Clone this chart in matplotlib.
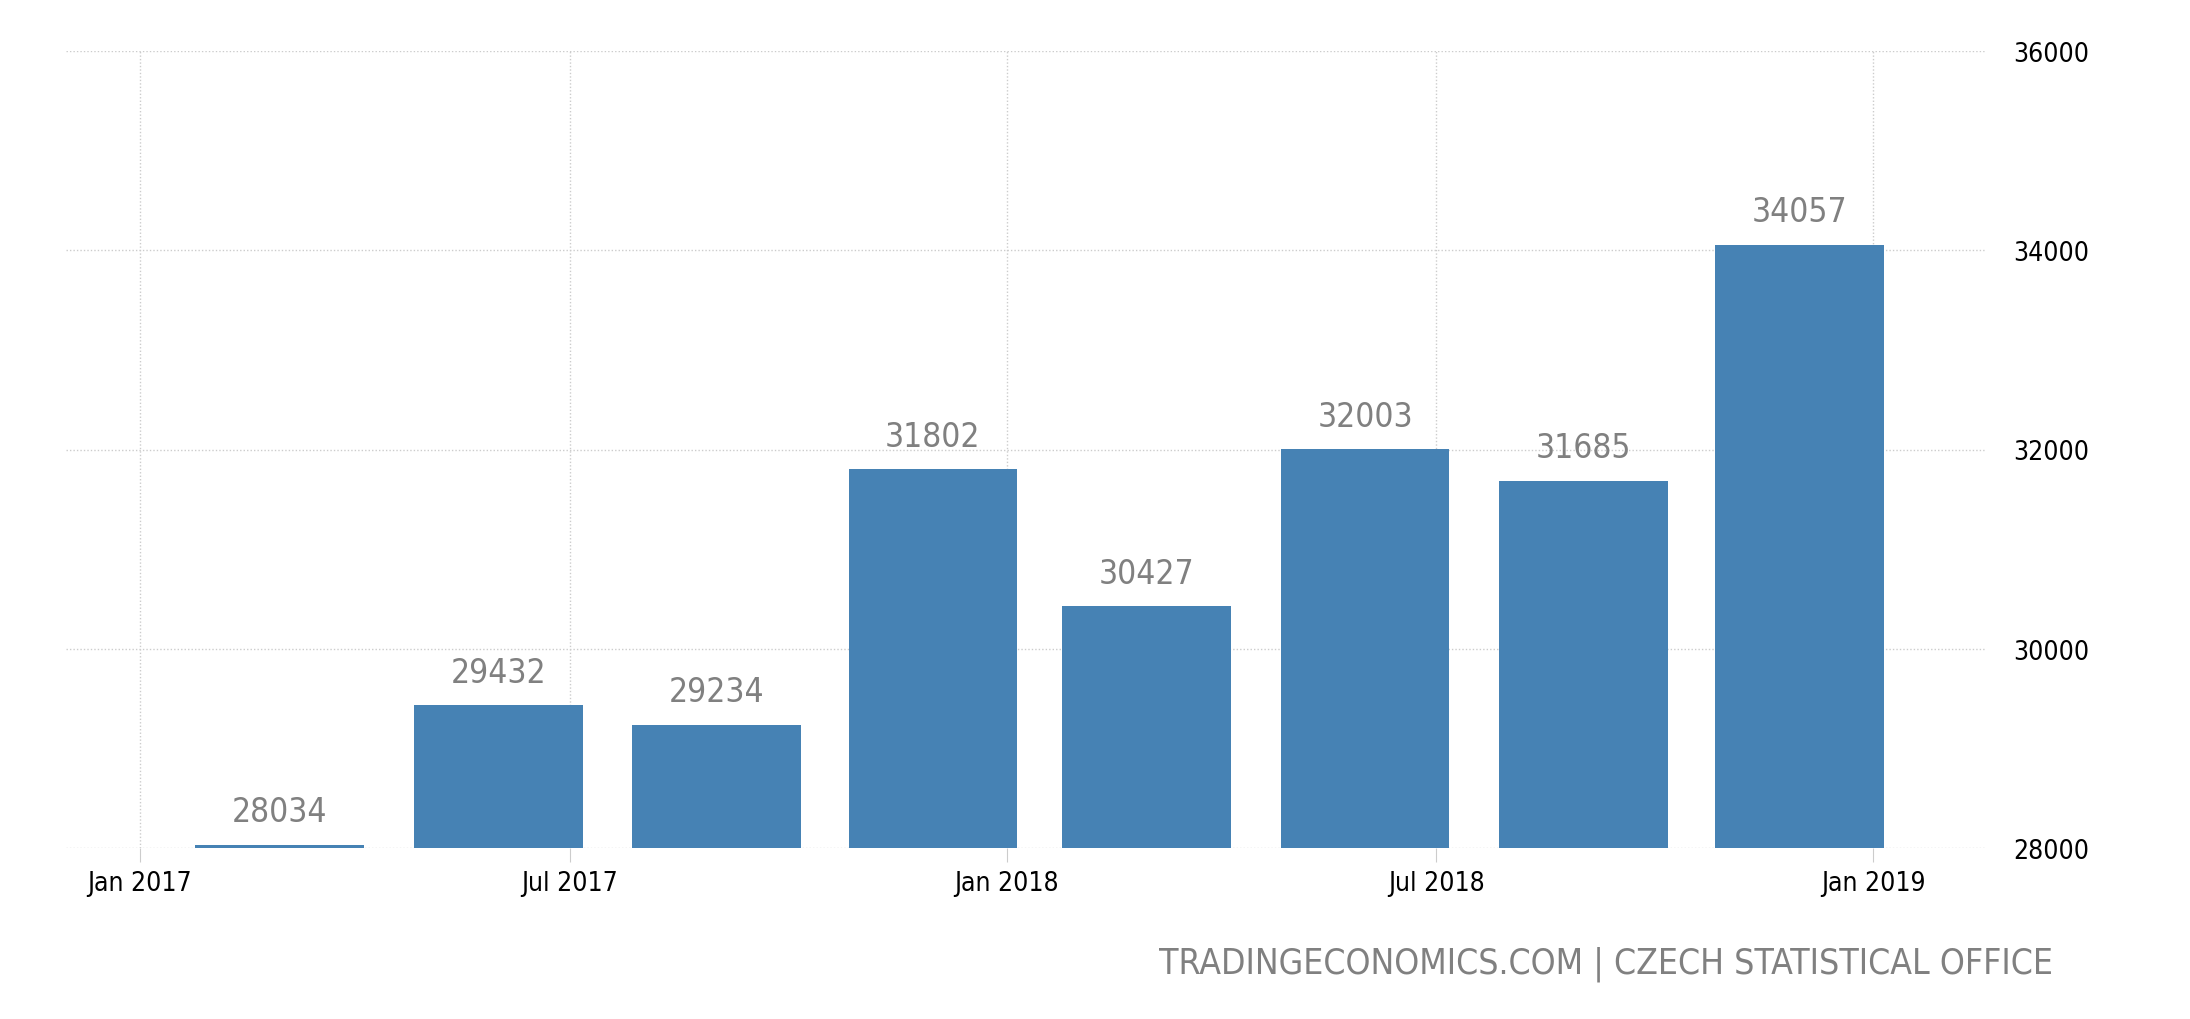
import matplotlib
matplotlib.use("Agg")
import matplotlib.pyplot as plt
import matplotlib.dates as mdates
import numpy as np
import datetime as dt

# quarterly data (bars centred on the last month of each quarter)
periods = ["2017-03", "2017-06", "2017-09", "2017-12",
           "2018-03", "2018-06", "2018-09", "2018-12"]
values = [28034, 29432, 29234, 31802, 30427, 32003, 31685, 34057]
y_ticks = [28000, 30000, 32000, 34000, 36000]
x_tick_dates = ["2017-01", "2017-07", "2018-01", "2018-07", "2019-01"]
x_tick_labels = ["Jan 2017", "Jul 2017", "Jan 2018", "Jul 2018", "Jan 2019"]
source = "TRADINGECONOMICS.COM | CZECH STATISTICAL OFFICE"

plt.rcParams['font.family'] = ['DejaVu Sans']
plt.rcParams['font.stretch'] = 'condensed'

bar_color = "#4682b4"
label_gray = "#808080"
grid_gray = "#cccccc"

def to_date(s):
    y, m = s.split("-")
    return dt.date(int(y), int(m), 1)

x = mdates.date2num([to_date(p) for p in periods])

fig = plt.figure(figsize=(21.9, 10.2), dpi=100)
ax = fig.add_axes([66 / 2190, 1 - 849 / 1020, (1985 - 66) / 2190, (849 - 52) / 1020])

ax.bar(x, np.array(values) - 28000, bottom=28000, width=71, color=bar_color, zorder=3)

for xi, v in zip(x, values):
    ax.annotate(str(v), (xi, v), xytext=(0, 17), textcoords="offset points",
                ha="center", va="baseline", fontsize=24, color=label_gray)

ax.set_ylim(28000, 36000)
ax.set_xlim(mdates.date2num(dt.date(2016, 12, 1)), mdates.date2num(dt.date(2019, 2, 17)))

ax.yaxis.tick_right()
ax.set_yticks(y_ticks)
ax.set_yticklabels([str(t) for t in y_ticks], fontsize=19)
ax.tick_params(axis="y", length=0, pad=20)

ax.set_xticks(mdates.date2num([to_date(d) for d in x_tick_dates]))
ax.set_xticklabels(x_tick_labels, fontsize=19)
ax.tick_params(axis="x", length=10, color=grid_gray, pad=6)

ax.grid(True, linestyle=(0, (1, 1.5)), color=grid_gray, linewidth=1, zorder=0)
for s in ax.spines.values():
    s.set_visible(False)

fig.text(2053 / 2190, 1 - 964 / 1020, source, ha="right", va="center",
         fontsize=25.5, color=label_gray)

fig.savefig("out.png", dpi=100)
